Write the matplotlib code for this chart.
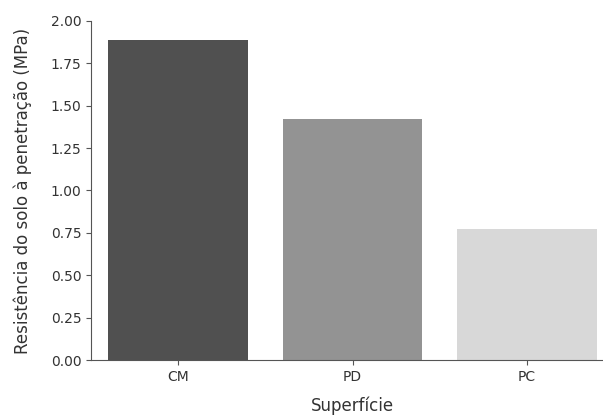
from matplotlib import pyplot as plt
import numpy as np

superficies = ["CM", "PD", "PC"]
resistencia = [1.89, 1.42, 0.77]
cores = ["#505050", "#939393", "#d8d8d8"]

fig = plt.figure(figsize=(6.03, 4.19), dpi=100)
ax = fig.add_axes([91 / 603, 59 / 419, 523 / 603, 339 / 419])

x = np.arange(len(superficies))
ax.bar(x, resistencia, width=0.8, color=cores)

ax.set_xticks(x)
ax.set_xticklabels(superficies)
ax.set_xlim(-0.5, 2.5)
ax.set_ylim(0, 2.0)
ax.set_yticks(np.arange(0, 2.01, 0.25))
ax.set_yticklabels([f"{v:.2f}" for v in np.arange(0, 2.01, 0.25)])

ax.set_xlabel("Superfície", fontsize=12, labelpad=9, color="#333333")
ax.set_ylabel("Resistência do solo à penetração (MPa)", fontsize=12,
              labelpad=13, color="#333333")

for side in ["top", "right"]:
    ax.spines[side].set_visible(False)
for side in ["left", "bottom"]:
    ax.spines[side].set_color("#555555")
ax.tick_params(colors="#555555", labelcolor="#333333")

plt.savefig("out.png", dpi=100)
plt.close()
